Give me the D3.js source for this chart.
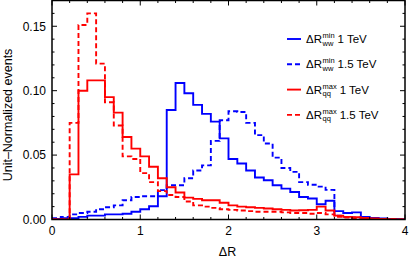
<!DOCTYPE html>
<html>
<head>
<meta charset="utf-8">
<script src="https://cdn.jsdelivr.net/npm/d3@7"></script>
<style>
  body { margin: 0; background: #fff; }
  svg { display: block; font-family: "Liberation Sans", Arial, sans-serif; }
</style>
</head>
<body>
<div id="chart"></div>
<script>
const width = 409;
const height = 260;
const margin = {top: 0.5, right: 4, bottom: 40.5, left: 52};

// bin edges 0.0, 0.1, ... 3.9 (width 0.1)
const binStart = d3.range(40).map(i => +(i * 0.1).toFixed(1));

const wwMin1 = [0.0005, 0.001, 0.001, 0.002, 0.003, 0.003, 0.004, 0.004, 0.0045, 0.006,
  0.008, 0.0103, 0.018, 0.085, 0.106, 0.098, 0.089, 0.082, 0.076, 0.063,
  0.047, 0.0435, 0.038, 0.0326, 0.0305, 0.0266, 0.024, 0.0214, 0.0175, 0.0163,
  0.0118, 0.0145, 0.0065, 0.005, 0.0055, 0.002, 0.0012, 0.0008, 0.0004, 0.0002];

const wwMin15 = [0.001, 0.002, 0.004, 0.005, 0.006, 0.008, 0.0095, 0.011, 0.015, 0.0175,
  0.018, 0.018, 0.0228, 0.0266, 0.0266, 0.032, 0.038, 0.042, 0.061, 0.077,
  0.084, 0.0835, 0.075, 0.0655, 0.059, 0.048, 0.040, 0.037, 0.029, 0.027,
  0.0255, 0.023, 0.003, 0.002, 0.0015, 0.001, 0.0007, 0.0004, 0.0002, 0.0001];

const qqMax1 = [0, 0, 0.035, 0.100, 0.108, 0.108, 0.095, 0.083, 0.064, 0.055,
  0.049, 0.041, 0.032, 0.025, 0.021, 0.017, 0.016, 0.015, 0.015, 0.013,
  0.011, 0.010, 0.0095, 0.009, 0.0085, 0.008, 0.0075, 0.007, 0.0072, 0.0075,
  0.010, 0.007, 0.003, 0.002, 0.0018, 0.0012, 0.0008, 0.0005, 0.0003, 0.0001];

const qqMax15 = [0, 0, 0.075, 0.151, 0.160, 0.121, 0.091, 0.073, 0.049, 0.047,
  0.036, 0.029, 0.022, 0.019, 0.0175, 0.014, 0.011, 0.010, 0.009, 0.008,
  0.0075, 0.007, 0.0065, 0.006, 0.006, 0.006, 0.0055, 0.005, 0.005, 0.0045,
  0.005, 0.004, 0.002, 0.0015, 0.001, 0.0008, 0.0005, 0.0003, 0.0002, 0.0001];

const xTicks = [0, 1, 2, 3, 4];
const yTicks = [0, 0.05, 0.10, 0.15];

const series = [
  {values: wwMin1, color: "#0000ff", dash: null, sub: "ww", sup: "min", energy: "1 TeV"},
  {values: wwMin15, color: "#0000ff", dash: "5,3", sub: "ww", sup: "min", energy: "1.5 TeV"},
  {values: qqMax1, color: "#ff0000", dash: null, sub: "qq", sup: "max", energy: "1 TeV"},
  {values: qqMax15, color: "#ff0000", dash: "5,3", sub: "qq", sup: "max", energy: "1.5 TeV"}
];

const svg = d3.select("#chart")
    .append("svg")
    .attr("width", width)
    .attr("height", height);

const x = d3.scaleLinear().domain([0, 4]).range([margin.left, width - margin.right]);
const y = d3.scaleLinear().domain([0, 0.17]).range([height - margin.bottom, margin.top]);

svg.append("clipPath").attr("id", "plot-clip")
  .append("rect")
  .attr("x", x(0)).attr("y", y(0.17))
  .attr("width", x(4) - x(0)).attr("height", y(0) - y(0.17));

// step lines
const line = d3.line()
    .x(d => x(d[0]))
    .y(d => y(d[1]))
    .curve(d3.curveStepAfter);

const plot = svg.append("g").attr("clip-path", "url(#plot-clip)");

series.forEach(s => {
    const pts = binStart.map((b, i) => [b, s.values[i]]);
    pts.push([4, s.values[s.values.length - 1]]);
    plot.append("path")
        .attr("d", line(pts))
        .attr("fill", "none")
        .attr("stroke", s.color)
        .attr("stroke-width", 1.9)
        .attr("stroke-dasharray", s.dash);
});

// frame with inward ticks on all four sides
const frame = svg.append("g").attr("stroke", "#000");
const minorX = d3.range(0, 4.001, 0.2);
const minorY = d3.range(0, 0.1701, 0.01);

minorX.forEach(v => {
    const major = Math.abs(v - Math.round(v)) < 1e-6;
    const len = major ? 5 : 2.5;
    frame.append("line").attr("x1", x(v)).attr("x2", x(v))
        .attr("y1", y(0)).attr("y2", y(0) - len).attr("stroke-width", 1);
    frame.append("line").attr("x1", x(v)).attr("x2", x(v))
        .attr("y1", y(0.17)).attr("y2", y(0.17) + len).attr("stroke-width", 1);
});
minorY.forEach(v => {
    const major = Math.abs(v / 0.05 - Math.round(v / 0.05)) < 1e-6;
    const len = major ? 5 : 2.5;
    frame.append("line").attr("x1", x(0)).attr("x2", x(0) + len)
        .attr("y1", y(v)).attr("y2", y(v)).attr("stroke-width", 1);
    frame.append("line").attr("x1", x(4)).attr("x2", x(4) - len)
        .attr("y1", y(v)).attr("y2", y(v)).attr("stroke-width", 1);
});

frame.append("rect")
    .attr("x", x(0)).attr("y", y(0.17))
    .attr("width", x(4) - x(0)).attr("height", y(0) - y(0.17))
    .attr("fill", "none")
    .attr("stroke-width", 1.5);

// tick labels
svg.append("g").selectAll("text")
  .data(xTicks).join("text")
    .attr("x", d => x(d))
    .attr("y", y(0) + 15)
    .attr("text-anchor", "middle")
    .attr("font-size", 12)
    .text(d => d);

svg.append("g").selectAll("text")
  .data(yTicks).join("text")
    .attr("x", x(0) - 6)
    .attr("y", d => y(d) + 4.3)
    .attr("text-anchor", "end")
    .attr("font-size", 12)
    .text(d => d.toFixed(2));

// axis titles
svg.append("text")
    .attr("x", x(2) - 1)
    .attr("y", 256)
    .attr("text-anchor", "middle")
    .attr("font-size", 12.5)
    .text("ΔR");

svg.append("text")
    .attr("transform", `translate(11.5,115) rotate(-90)`)
    .attr("text-anchor", "middle")
    .attr("font-size", 12.5)
    .text("Unit\u2013Normalized events");

// legend
const legend = svg.append("g");
series.forEach((s, i) => {
    const cy = 39 + i * 25.3;
    const g = legend.append("g").attr("transform", `translate(287,${cy})`);
    g.append("line")
        .attr("x1", 0).attr("x2", 14)
        .attr("y1", 0).attr("y2", 0)
        .attr("stroke", s.color)
        .attr("stroke-width", 1.9)
        .attr("stroke-dasharray", s.dash ? "5,3" : null);
    const main = g.append("text")
        .attr("x", 19).attr("y", 4)
        .attr("font-size", 11.5)
        .text("ΔR");
    const w = main.node().getComputedTextLength();
    const supT = g.append("text")
        .attr("x", 19 + w + 0.5).attr("y", -1)
        .attr("font-size", 7.5)
        .text(s.sup);
    const subT = g.append("text")
        .attr("x", 19 + w + 0.5).attr("y", 6.5)
        .attr("font-size", 7.5)
        .text(s.sub);
    const sw = Math.max(supT.node().getComputedTextLength(), subT.node().getComputedTextLength());
    g.append("text")
        .attr("x", 19 + w + 0.5 + sw + 3).attr("y", 4)
        .attr("font-size", 11.5)
        .text(s.energy);
});
</script>
</body>
</html>
